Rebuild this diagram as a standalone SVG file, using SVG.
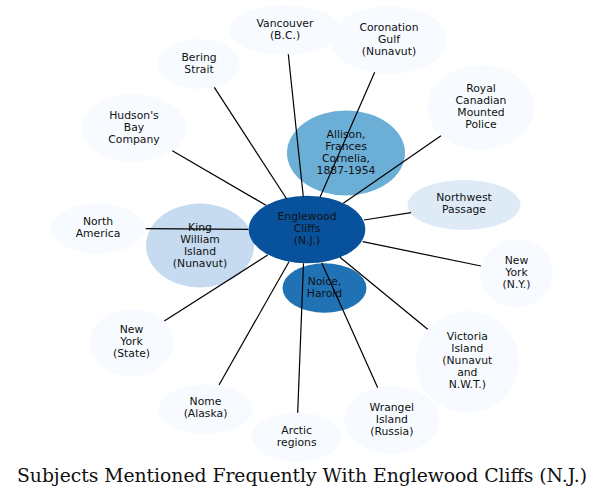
<svg xmlns="http://www.w3.org/2000/svg" width="604" height="498" viewBox="0 0 604 498">
<style>
.n text{font-family:"DejaVu Sans",sans-serif;font-size:10.8px;fill:#111;text-anchor:middle}
.leaf{fill:#f7fbff}
.c1{fill:#deebf7}
.c2{fill:#c6dbef}
.c3{fill:#6baed6}
.c4{fill:#2171b5}
.c5{fill:#08519c}
#edges line{stroke:#000;stroke-width:1.2}
.title{font-family:"DejaVu Serif","Liberation Serif",serif;font-size:18.8px;fill:#111;text-anchor:middle}
</style>
<rect width="604" height="498" fill="#fff"/>
<g id="vancouver" class="n"><ellipse class="leaf" cx="285" cy="30" rx="56" ry="25"/><text x="285" y="27">Vancouver<tspan x="285" dy="12">(B.C.)</tspan></text></g>
<g id="coronation" class="n"><ellipse class="leaf" cx="389" cy="40" rx="58" ry="34"/><text x="389" y="31">Coronation<tspan x="389" dy="12">Gulf</tspan><tspan x="389" dy="12">(Nunavut)</tspan></text></g>
<g id="bering" class="n"><ellipse class="leaf" cx="199" cy="64" rx="41" ry="25"/><text x="199" y="61">Bering<tspan x="199" dy="12">Strait</tspan></text></g>
<g id="royal" class="n"><ellipse class="leaf" cx="481" cy="107.5" rx="53.5" ry="42.5"/><text x="481" y="92">Royal<tspan x="481" dy="12">Canadian</tspan><tspan x="481" dy="12">Mounted</tspan><tspan x="481" dy="12">Police</tspan></text></g>
<g id="hudson" class="n"><ellipse class="leaf" cx="134" cy="128" rx="52" ry="34"/><text x="134" y="119">Hudson's<tspan x="134" dy="12">Bay</tspan><tspan x="134" dy="12">Company</tspan></text></g>
<g id="allison" class="n"><ellipse class="c3" cx="346" cy="153" rx="59" ry="42.5"/><text x="346" y="138">Allison,<tspan x="346" dy="12">Frances</tspan><tspan x="346" dy="12">Cornelia,</tspan><tspan x="346" dy="12">1887-1954</tspan></text></g>
<g id="northwest" class="n"><ellipse class="c1" cx="464" cy="205" rx="56.5" ry="25"/><text x="464" y="201">Northwest<tspan x="464" dy="12">Passage</tspan></text></g>
<g id="northamerica" class="n"><ellipse class="leaf" cx="98" cy="228.5" rx="47" ry="25"/><text x="98" y="225">North<tspan x="98" dy="12">America</tspan></text></g>
<g id="kingwilliam" class="n"><ellipse class="c2" cx="200" cy="245.5" rx="54" ry="42"/><text x="200" y="231">King<tspan x="200" dy="12">William</tspan><tspan x="200" dy="12">Island</tspan><tspan x="200" dy="12">(Nunavut)</tspan></text></g>
<g id="englewood" class="n"><ellipse class="c5" cx="307" cy="229.5" rx="58.3" ry="33.8"/><text x="307" y="220">Englewood<tspan x="307" dy="12">Cliffs</tspan><tspan x="307" dy="12">(N.J.)</tspan></text></g>
<g id="newyork" class="n"><ellipse class="leaf" cx="516.5" cy="273.5" rx="36.5" ry="34"/><text x="516.5" y="264">New<tspan x="516.5" dy="12">York</tspan><tspan x="516.5" dy="12">(N.Y.)</tspan></text></g>
<g id="noice" class="n"><ellipse class="c4" cx="324.5" cy="288" rx="42" ry="24.7"/><text x="324.5" y="285">Noice,<tspan x="324.5" dy="12">Harold</tspan></text></g>
<g id="nystate" class="n"><ellipse class="leaf" cx="131.5" cy="342.5" rx="42.3" ry="33.5"/><text x="131.5" y="333">New<tspan x="131.5" dy="12">York</tspan><tspan x="131.5" dy="12">(State)</tspan></text></g>
<g id="victoria" class="n"><ellipse class="leaf" cx="467.3" cy="361.7" rx="51.7" ry="50.7"/><text x="467.3" y="340">Victoria<tspan x="467.3" dy="12">Island</tspan><tspan x="467.3" dy="12">(Nunavut</tspan><tspan x="467.3" dy="12">and</tspan><tspan x="467.3" dy="12">N.W.T.)</tspan></text></g>
<g id="nome" class="n"><ellipse class="leaf" cx="205.5" cy="409.2" rx="47.2" ry="24.8"/><text x="205.5" y="405">Nome<tspan x="205.5" dy="12">(Alaska)</tspan></text></g>
<g id="wrangel" class="n"><ellipse class="leaf" cx="391.8" cy="420" rx="47.5" ry="34"/><text x="391.8" y="411">Wrangel<tspan x="391.8" dy="12">Island</tspan><tspan x="391.8" dy="12">(Russia)</tspan></text></g>
<g id="arctic" class="n"><ellipse class="leaf" cx="296.7" cy="437" rx="45" ry="24.7"/><text x="296.7" y="434">Arctic<tspan x="296.7" dy="12">regions</tspan></text></g>
<g id="edges">
<line x1="288.3" y1="54.3" x2="303.3" y2="196.7"/>
<line x1="214.3" y1="87.3" x2="286.7" y2="199"/>
<line x1="172.3" y1="150.7" x2="266" y2="205.3"/>
<line x1="145.7" y1="228.7" x2="248.3" y2="229.3"/>
<line x1="374.7" y1="72.3" x2="320" y2="197.3"/>
<line x1="441" y1="135.7" x2="343.3" y2="203.3"/>
<line x1="411" y1="212.7" x2="364" y2="220"/>
<line x1="481" y1="266" x2="362.7" y2="241.7"/>
<line x1="427.7" y1="329.3" x2="340" y2="257.3"/>
<line x1="377.7" y1="387.7" x2="321.7" y2="262.7"/>
<line x1="297.7" y1="412.7" x2="303.5" y2="263.3"/>
<line x1="219" y1="385" x2="289" y2="261.7"/>
<line x1="164.3" y1="321" x2="267.7" y2="255"/>
</g>
<text class="title" x="302" y="482" textLength="570" lengthAdjust="spacing">Subjects Mentioned Frequently With Englewood Cliffs (N.J.)</text>
</svg>
